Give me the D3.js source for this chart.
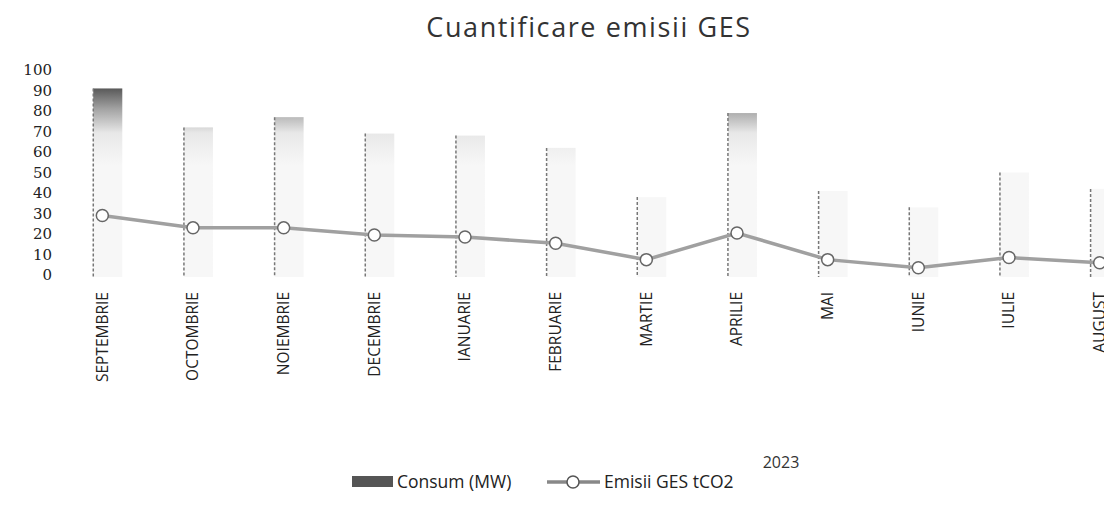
<!DOCTYPE html>
<html>
<head>
<meta charset="utf-8">
<script src="https://cdn.jsdelivr.net/npm/d3@7"></script>
<style>
  body { margin: 0; background: #fff; }
  svg { display: block; }
  .tick text { fill: #222; }
</style>
</head>
<body>
<div id="chart"></div>
<script>
// Months (categories), consumption bars and emissions line
const months = ["SEPTEMBRIE", "OCTOMBRIE", "NOIEMBRIE", "DECEMBRIE", "IANUARIE", "FEBRUARIE",
  "MARTIE", "APRILIE", "MAI", "IUNIE", "IULIE", "AUGUST"];
const consum = [91, 72, 77, 69, 68, 62, 38, 79, 41, 33, 50, 42];
const emisii = [29, 23, 23, 19.5, 18.5, 15.5, 7.5, 20.5, 7.5, 3.5, 8.5, 6];
const yTicks = [0, 10, 20, 30, 40, 50, 60, 70, 80, 90, 100];
const yearLabel = "2023";

const W = 1104, H = 517;

const svg = d3.select("#chart")
  .append("svg")
  .attr("width", W)
  .attr("height", H);

// scales (chart runs past the right edge, like the scan)
const x = d3.scaleBand()
  .domain(months)
  .range([57, 1145]);

const y = d3.scaleLinear()
  .domain([0, 100])
  .range([275, 70]);

// faded scan look for the bars: dark at the top, washing out lower down
const grad = svg.append("defs").append("linearGradient")
  .attr("id", "barFill")
  .attr("gradientUnits", "userSpaceOnUse")
  .attr("x1", 0).attr("y1", 85)
  .attr("x2", 0).attr("y2", 165);
grad.append("stop").attr("offset", 0).attr("stop-color", "#4d4d4d");
grad.append("stop").attr("offset", 0.3).attr("stop-color", "#a3a3a3");
grad.append("stop").attr("offset", 0.6).attr("stop-color", "#e8e8e8");
grad.append("stop").attr("offset", 1).attr("stop-color", "#f7f7f7");

// title
svg.append("text")
  .attr("x", 589)
  .attr("y", 37)
  .attr("text-anchor", "middle")
  .style("font-family", "'Open Sans', sans-serif")
  .style("font-size", "27px")
  .style("letter-spacing", "1.6px")
  .style("fill", "#333")
  .text("Cuantificare emisii GES");

// y axis
svg.append("g")
  .attr("transform", "translate(52,0)")
  .call(d3.axisLeft(y).tickValues(yTicks).tickSize(0).tickPadding(0))
  .call(g => g.select(".domain").remove())
  .selectAll("text")
  .style("font-family", "'DejaVu Serif', serif")
  .style("font-size", "15px");

// bars
const barX = d => x(d) + x.bandwidth() * 0.40;
const barW = x.bandwidth() * 0.32;

svg.append("g")
  .selectAll("rect")
  .data(months)
  .join("rect")
  .attr("x", d => barX(d))
  .attr("y", (d, i) => y(consum[i]))
  .attr("width", barW)
  .attr("height", (d, i) => y(0) - y(consum[i]) + 2)
  .style("fill", "url(#barFill)");

// dark left edge of every bar
svg.append("g")
  .selectAll("line")
  .data(months)
  .join("line")
  .attr("x1", d => barX(d))
  .attr("x2", d => barX(d))
  .attr("y1", (d, i) => y(consum[i]))
  .attr("y2", y(0) + 2)
  .style("stroke", "#777")
  .style("stroke-width", 1.5)
  .style("stroke-dasharray", "3,2");

// x axis
svg.append("g")
  .attr("transform", "translate(0," + (y(0) + 2) + ")")
  .call(d3.axisBottom(x).tickSize(0))
  .call(g => g.select(".domain").remove())
  .selectAll("text")
  .attr("transform", "rotate(-90)")
  .attr("x", -15)
  .attr("y", 0)
  .attr("dy", "0.35em")
  .style("text-anchor", "end")
  .style("font-family", "'Open Sans', sans-serif")
  .style("font-size", "15.5px");

// year label of the second category level
svg.append("text")
  .attr("x", 781)
  .attr("y", 468)
  .attr("text-anchor", "middle")
  .style("font-family", "'Open Sans', sans-serif")
  .style("font-size", "16px")
  .style("fill", "#333")
  .text(yearLabel);

// emissions line
const cx = d => x(d) + x.bandwidth() / 2;
const line = d3.line()
  .x(d => cx(d))
  .y((d, i) => y(emisii[i]));

svg.append("path")
  .datum(months)
  .attr("d", line)
  .style("fill", "none")
  .style("stroke", "#a0a0a0")
  .style("stroke-width", 3.5);

svg.append("g")
  .selectAll("circle")
  .data(months)
  .join("circle")
  .attr("cx", d => cx(d))
  .attr("cy", (d, i) => y(emisii[i]))
  .attr("r", 6)
  .style("fill", "#fff")
  .style("stroke", "#666")
  .style("stroke-width", 1.5);

// legend
const legend = svg.append("g").attr("transform", "translate(352,482)");
legend.append("rect")
  .attr("x", 0).attr("y", -6)
  .attr("width", 41).attr("height", 11)
  .style("fill", "#555");
legend.append("text")
  .attr("x", 45).attr("y", 6)
  .style("font-family", "'Open Sans', sans-serif")
  .style("font-size", "17.5px")
  .style("fill", "#222")
  .text("Consum (MW)");
legend.append("line")
  .attr("x1", 195).attr("x2", 248)
  .attr("y1", 0).attr("y2", 0)
  .style("stroke", "#888")
  .style("stroke-width", 3.5);
legend.append("circle")
  .attr("cx", 221).attr("cy", 0).attr("r", 6)
  .style("fill", "#fff")
  .style("stroke", "#555")
  .style("stroke-width", 1.5);
legend.append("text")
  .attr("x", 252).attr("y", 6)
  .style("font-family", "'Open Sans', sans-serif")
  .style("font-size", "17.5px")
  .style("fill", "#222")
  .text("Emisii GES tCO2");
</script>
</body>
</html>
